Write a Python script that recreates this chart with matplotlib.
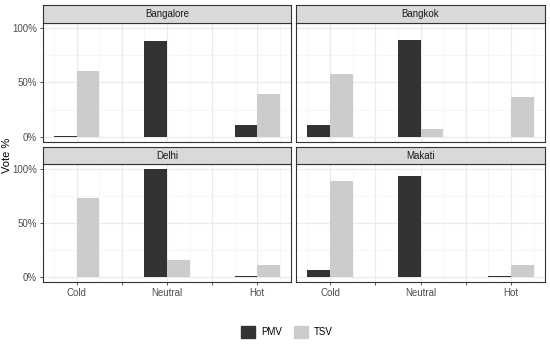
import matplotlib.pyplot as plt
import numpy as np

cities = ['Bangalore', 'Bangkok', 'Delhi', 'Makati']
categories = ['Cold', 'Neutral', 'Hot']
pmv = {'Bangalore': [0.5, 88.7, 10.7],
       'Bangkok': [11.0, 89.0, 0.0],
       'Delhi': [0.0, 100.0, 1.0],
       'Makati': [6.2, 93.8, 0.7]}
tsv = {'Bangalore': [61.0, 0.0, 39.0],
       'Bangkok': [57.5, 6.7, 36.7],
       'Delhi': [73.4, 15.4, 10.8],
       'Makati': [89.0, 0.0, 11.0]}

W, H = 550, 345
fig = plt.figure(figsize=(W/100, H/100), dpi=100)
plt.rcParams['font.family'] = ['Liberation Sans', 'DejaVu Sans']

def box(x0, y0, x1, y1):
    return [x0/W, 1-y1/H, (x1-x0)/W, (y1-y0)/H]

cols = [(43, 291), (296, 545)]
rows = [((5, 23), (23, 142)), ((147, 164), (164, 282))]
xc = np.array([-1, 0, 1])
bw = 0.25

for i, city in enumerate(cities):
    r, c = divmod(i, 2)
    (sy0, sy1), (py0, py1) = rows[r]
    x0, x1 = cols[c]
    ax = fig.add_axes(box(x0, py0, x1, py1))
    ax.set_axisbelow(True)
    ax.bar(xc - bw/2, np.array(pmv[city])/100, width=bw, color='#333333')
    ax.bar(xc + bw/2, np.array(tsv[city])/100, width=bw, color='#cccccc')
    ax.set_xlim(-1.375, 1.375)
    ax.set_ylim(-0.05, 1.05)
    ax.set_xticks([-1, -0.5, 0, 0.5, 1])
    ax.set_xticks([-1.25, -0.75, -0.25, 0.25, 0.75, 1.25], minor=True)
    ax.set_yticks([0, 0.5, 1])
    ax.set_yticks([0.25, 0.75], minor=True)
    ax.grid(True, which='major', color='#ebebeb', lw=0.9)
    ax.grid(True, which='minor', color='#f3f3f3', lw=0.5)
    ax.tick_params(which='minor', length=0)
    ax.tick_params(which='major', length=2.5, color='#333333', width=0.6,
                   labelsize=7, labelcolor='#4d4d4d', pad=2)
    if r == 1:
        ax.set_xticklabels(['Cold', '', 'Neutral', '', 'Hot'])
    else:
        ax.set_xticklabels([])
        ax.tick_params(axis='x', which='major', length=0)
    if c == 0:
        ax.set_yticklabels(['0%', '50%', '100%'])
    else:
        ax.set_yticklabels([])
        ax.tick_params(axis='y', which='major', length=0)
    for s in ax.spines.values():
        s.set_color('#333333')
        s.set_linewidth(0.8)

    sax = fig.add_axes(box(x0, sy0, x1, sy1))
    sax.set_facecolor('#d9d9d9')
    sax.set_xticks([])
    sax.set_yticks([])
    for s in sax.spines.values():
        s.set_color('#333333')
        s.set_linewidth(0.8)
    sax.text(0.5, 0.5, city, ha='center', va='center', fontsize=7, color='#1a1a1a',
             transform=sax.transAxes)

fig.text(7/W, 1-155/H, 'Vote %', rotation=90, ha='center', va='center', fontsize=8)

handles = [plt.Rectangle((0, 0), 1, 1, color='#333333'),
           plt.Rectangle((0, 0), 1, 1, color='#cccccc')]
fig.legend(handles, ['PMV', 'TSV'], loc='center', bbox_to_anchor=(287/W, 1-332/H),
           ncol=2, frameon=False, fontsize=7, handlelength=1.5, handleheight=1.5,
           handletextpad=0.6, columnspacing=1.2)

fig.savefig('out.png', dpi=100, facecolor='white')
